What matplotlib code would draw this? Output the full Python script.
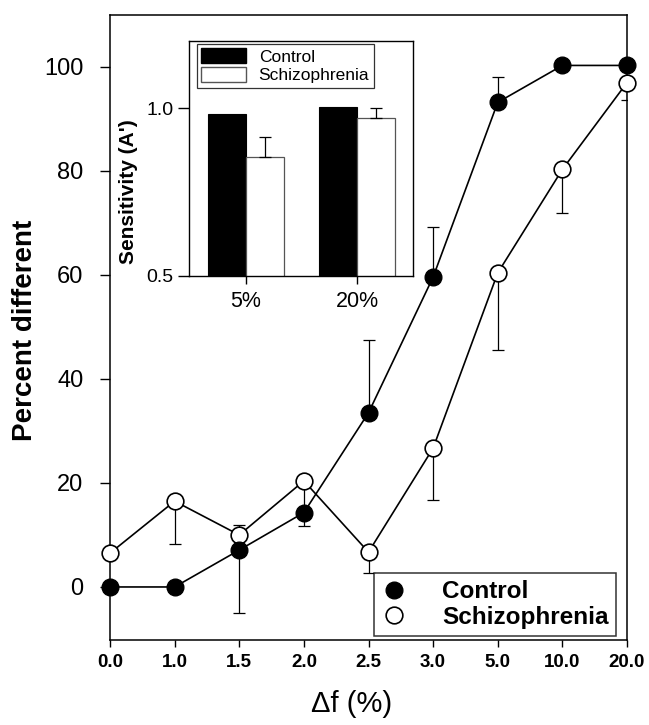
import matplotlib

matplotlib.use("Agg")
import matplotlib.pyplot as plt
from matplotlib.lines import Line2D
from matplotlib.patches import Patch

# main panel: percent "different" responses per frequency step
DELTA_LABELS = ["0.0", "1.0", "1.5", "2.0", "2.5", "3.0", "5.0", "10.0", "20.0"]
control_mean = [0.0, 0.0, 7.1, 14.3, 33.5, 59.6, 93.2, 100.3, 100.3]
control_err_lo = [0, 0, 12.1, 2.6, 0, 0, 0, 0, 0]
control_err_hi = [0, 0, 0, 0, 14.0, 9.6, 4.8, 0, 0]
schizo_mean = [6.5, 16.5, 10.0, 20.4, 6.7, 26.7, 60.4, 80.3, 97.0]
schizo_err_lo = [0, 8.2, 0, 6.0, 4.0, 10.0, 14.8, 8.3, 3.3]
schizo_err_hi = [0, 0, 2.0, 0, 0, 0, 0, 0, 0]
Y_TICKS = [0, 20, 40, 60, 80, 100]

# inset: sensitivity A'
INSET_LABELS = ["5%", "20%"]
inset_control = [0.982, 1.003]
inset_schizo = [0.854, 0.970]
inset_schizo_err = [0.06, 0.03]

W, H = 649, 725
FONT = ["Liberation Sans", "DejaVu Sans"]

plt.rcParams.update(
    {
        "font.family": FONT,
        "axes.linewidth": 1.1,
        "axes.unicode_minus": False,
    }
)


def fx(px):
    return px / W


def fy(py):
    return 1 - py / H


fig = plt.figure(figsize=(W / 100, H / 100), dpi=100)
ax = fig.add_axes([fx(110), fy(640), fx(627) - fx(110), fy(15) - fy(640)])

xs = list(range(len(DELTA_LABELS)))
ax.errorbar(xs, control_mean, yerr=[control_err_lo, control_err_hi], fmt="none",
            ecolor="black", elinewidth=0.9, capsize=4.5, capthick=0.9, zorder=2)
ax.errorbar(xs, schizo_mean, yerr=[schizo_err_lo, schizo_err_hi], fmt="none",
            ecolor="black", elinewidth=0.9, capsize=4.5, capthick=0.9, zorder=2)
ax.plot(xs, control_mean, color="black", linewidth=1.2, marker="o", markersize=12,
        markerfacecolor="black", markeredgecolor="black", zorder=4, clip_on=False)
ax.plot(xs, schizo_mean, color="black", linewidth=1.2, marker="o", markersize=12,
        markerfacecolor="white", markeredgecolor="black", markeredgewidth=1.2,
        zorder=3, clip_on=False)

ax.set_xlim(0, len(DELTA_LABELS) - 1)
ax.set_ylim(-10.2, 110)
ax.set_xticks(xs)
ax.set_xticklabels(DELTA_LABELS, fontsize=13.5, fontweight="bold")
ax.set_yticks(Y_TICKS)
ax.set_yticklabels([str(v) for v in Y_TICKS], fontsize=17)
ax.tick_params(axis="x", direction="out", length=5, width=1, pad=5)
ax.tick_params(axis="y", direction="out", length=7, width=1, pad=12)

ax.set_ylabel("Percent different", fontsize=20, fontweight="bold")
ax.yaxis.set_label_coords(fx(38), fy(330), transform=fig.transFigure)
ax.set_xlabel("Δf (%)", fontsize=21)
ax.xaxis.set_label_coords(fx(352), fy(690), transform=fig.transFigure)

handles = [
    Line2D([], [], linestyle="none", marker="o", markersize=12,
           markerfacecolor="black", markeredgecolor="black"),
    Line2D([], [], linestyle="none", marker="o", markersize=12,
           markerfacecolor="white", markeredgecolor="black", markeredgewidth=1.2),
]
leg = ax.legend(handles, ["Control", "Schizophrenia"], loc="lower right",
                bbox_to_anchor=(fx(616), fy(636)), bbox_transform=fig.transFigure,
                borderaxespad=0, fancybox=False, frameon=True, handlelength=1.0,
                handletextpad=1.5, labelspacing=0.1, borderpad=0.3,
                prop={"family": FONT, "size": 17.5, "weight": "bold"})
leg.get_frame().set_edgecolor("black")
leg.get_frame().set_linewidth(1.1)

# inset bar chart
ins = fig.add_axes([fx(189), fy(276), fx(413) - fx(189), fy(41) - fy(276)])
bx = list(range(len(INSET_LABELS)))
bw = 0.34
ins.bar([b - bw / 2 for b in bx], inset_control, width=bw, color="black",
        edgecolor="black", linewidth=0.8, label="Control")
ins.bar([b + bw / 2 for b in bx], inset_schizo, width=bw, color="white",
        edgecolor="#555555", linewidth=0.9, label="Schizophrenia")
ins.errorbar([b + bw / 2 for b in bx], inset_schizo,
             yerr=[[0] * len(bx), inset_schizo_err], fmt="none", ecolor="black",
             elinewidth=0.9, capsize=4.5, capthick=0.9)
ins.set_xlim(-0.51, 1.5)
ins.set_ylim(0.5, 1.2)
ins.set_xticks(bx)
ins.set_xticklabels(INSET_LABELS, fontsize=15.5)
ins.set_yticks([0.5, 1.0])
ins.set_yticklabels(["0.5", "1.0"], fontsize=14)
ins.tick_params(axis="x", direction="out", length=6, width=1, pad=5)
ins.tick_params(axis="y", direction="out", length=8, width=1, pad=3)
ins.set_ylabel("Sensitivity (A')", fontsize=15, fontweight="bold")
ins.yaxis.set_label_coords(fx(138), fy(192), transform=fig.transFigure)
for spine in ins.spines.values():
    spine.set_linewidth(1.0)

inset_handles = [
    Patch(facecolor="black", edgecolor="black"),
    Patch(facecolor="white", edgecolor="#555555"),
]
ileg = ins.legend(inset_handles, ["Control", "Schizophrenia"], loc="upper left",
                  bbox_to_anchor=(fx(197), fy(44)), bbox_transform=fig.transFigure,
                  borderaxespad=0, fancybox=False, handlelength=2.6, handleheight=0.9,
                  handletextpad=0.7, labelspacing=0.15, borderpad=0.25,
                  prop={"family": FONT, "size": 12.5})
ileg.get_frame().set_edgecolor("black")
ileg.get_frame().set_linewidth(0.9)

fig.savefig("out.png", dpi=100)
